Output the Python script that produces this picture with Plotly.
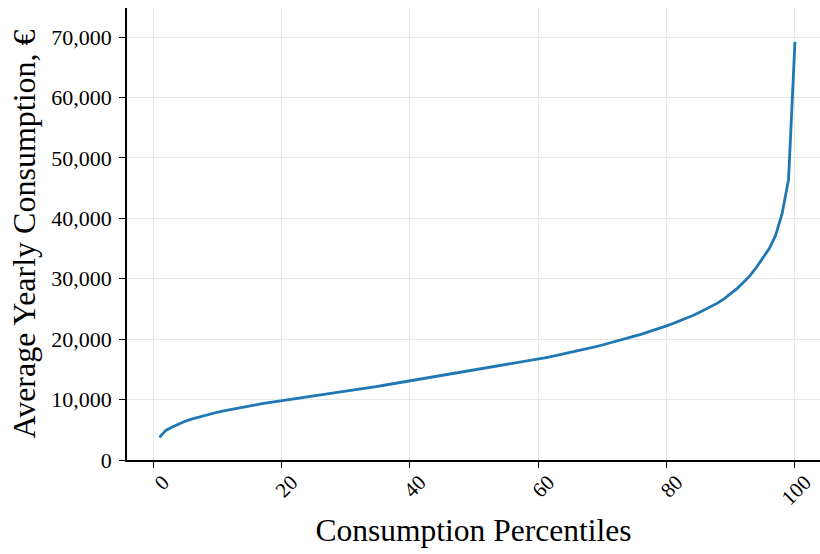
import plotly.graph_objects as go

percentiles = list(range(1, 101))
consumption = [
    3750, 4900, 5450, 5950, 6400, 6750, 7050, 7350, 7650, 7900,
    8120, 8340, 8550, 8750, 8950, 9130, 9310, 9490, 9660, 9830,
    9990, 10140, 10290, 10440, 10590, 10740, 10890, 11040, 11190, 11340,
    11510, 11680, 11850, 12020, 12190, 12370, 12550, 12730, 12910, 13090,
    13250, 13420, 13590, 13760, 13930, 14100, 14270, 14440, 14610, 14790,
    14970, 15150, 15340, 15530, 15720, 15910, 16100, 16290, 16490, 16690,
    16900, 17120, 17340, 17560, 17780, 18010, 18250, 18500, 18760, 19030,
    19300, 19580, 19870, 20200, 20500, 20800, 21130, 21470, 21820, 22190,
    22580, 22990, 23420, 23870, 24350, 24860, 25410, 26000, 26700, 27500,
    28400, 29400, 30500, 31900, 33400, 35000, 37200, 40800, 46400, 69200,
]
x_ticks = [0, 20, 40, 60, 80, 100]
y_ticks = [0, 10000, 20000, 30000, 40000, 50000, 60000, 70000]
y_tick_labels = ["0", "10,000", "20,000", "30,000", "40,000", "50,000", "60,000", "70,000"]

FONT = "Liberation Serif, serif"

fig = go.Figure()
fig.add_trace(go.Scatter(
    x=percentiles, y=consumption, mode="lines",
    line=dict(color="#1f77b4", width=2.8),
    showlegend=False,
))

fig.update_layout(
    width=820, height=554,
    margin=dict(l=127, r=0, t=8, b=94),
    paper_bgcolor="white", plot_bgcolor="white",
    font=dict(family=FONT, color="black", size=22),
)
fig.update_xaxes(
    automargin=False,
    range=[-4.05, 103.9],
    tickvals=x_ticks, ticktext=[str(v) for v in x_ticks],
    tickangle=-45, ticks="outside", ticklen=6, tickwidth=1.3, tickcolor="black",
    tickfont=dict(family=FONT, size=21),
    ticklabelshift=10, ticklabelstandoff=-6,
    showline=True, linecolor="black", linewidth=1.6,
    showgrid=True, gridcolor="#e6e6e6", gridwidth=1.4, zeroline=False,
    title=dict(text="Consumption Percentiles", font=dict(family=FONT, size=31.5), standoff=10),
)
fig.update_yaxes(
    automargin=False,
    range=[0, 74800],
    tickvals=y_ticks, ticktext=y_tick_labels,
    ticks="outside", ticklen=6, tickwidth=1.3, tickcolor="black",
    tickfont=dict(family=FONT, size=22),
    ticklabelstandoff=3,
    showline=True, linecolor="black", linewidth=1.6,
    showgrid=True, gridcolor="#e6e6e6", gridwidth=1.4, zeroline=False,
    title=dict(text="Average Yearly Consumption, €", font=dict(family=FONT, size=32), standoff=6),
)

fig.write_html(
    "out.html",
    config={"displayModeBar": False},
    post_script="document.body.style.margin='0';document.body.style.padding='0';",
)
